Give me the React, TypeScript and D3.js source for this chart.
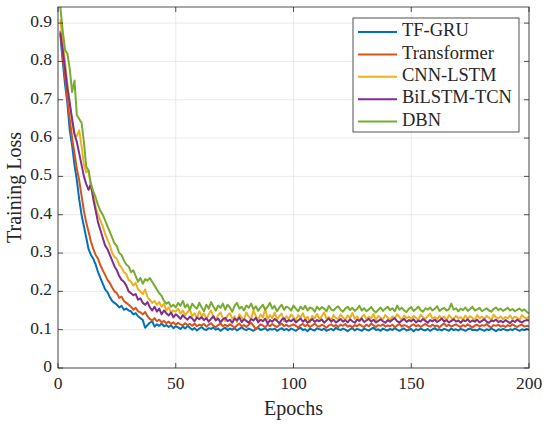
import React from "react";
import * as d3 from "d3";

const seriesNames = ["TF-GRU", "Transformer", "CNN-LSTM", "BiLSTM-TCN", "DBN"];
const seriesColors = ["#0072BD", "#D95319", "#EDB120", "#7E2F8E", "#77AC30"];
const xTicks = [0, 50, 100, 150, 200];
const yTicks = [0, 0.1, 0.2, 0.3, 0.4, 0.5, 0.6, 0.7, 0.8, 0.9];
const yTickLabels = ["0", "0.1", "0.2", "0.3", "0.4", "0.5", "0.6", "0.7", "0.8", "0.9"];

const tfGru = [
  0.870, 0.800, 0.740, 0.690, 0.620, 0.580, 0.530, 0.490, 0.440, 0.400,
  0.370, 0.340, 0.310, 0.295, 0.285, 0.270, 0.250, 0.235, 0.220, 0.205,
  0.198, 0.185, 0.175, 0.170, 0.165, 0.158, 0.162, 0.152, 0.155, 0.150,
  0.148, 0.140, 0.143, 0.135, 0.130, 0.125, 0.105, 0.112, 0.118, 0.122,
  0.108, 0.114, 0.110, 0.116, 0.109, 0.112, 0.107, 0.111, 0.104, 0.109,
  0.106, 0.102, 0.108, 0.103, 0.110, 0.105, 0.100, 0.104, 0.098, 0.103,
  0.107, 0.101, 0.099, 0.104, 0.102, 0.106, 0.100, 0.103, 0.097, 0.102,
  0.105, 0.099, 0.103, 0.100, 0.104, 0.098, 0.102, 0.106, 0.101, 0.099,
  0.103, 0.100, 0.097, 0.102, 0.105, 0.099, 0.101, 0.104, 0.098, 0.102,
  0.100, 0.103, 0.097, 0.101, 0.104, 0.099, 0.102, 0.098, 0.103, 0.100,
  0.097, 0.102, 0.105, 0.099, 0.101, 0.096, 0.103, 0.100, 0.098, 0.104,
  0.101, 0.099, 0.103, 0.097, 0.100, 0.102, 0.098, 0.105, 0.101, 0.099,
  0.103, 0.100, 0.096, 0.101, 0.104, 0.098, 0.102, 0.100, 0.097, 0.103,
  0.100, 0.098, 0.102, 0.105, 0.099, 0.101, 0.097, 0.103, 0.100, 0.098,
  0.102, 0.099, 0.104, 0.100, 0.097, 0.101, 0.103, 0.098, 0.100, 0.102,
  0.096, 0.101, 0.099, 0.103, 0.100, 0.098, 0.102, 0.097, 0.101, 0.104,
  0.099, 0.101, 0.098, 0.102, 0.100, 0.097, 0.103, 0.099, 0.101, 0.098,
  0.102, 0.100, 0.097, 0.101, 0.103, 0.099, 0.100, 0.098, 0.102, 0.100,
  0.097, 0.101, 0.099, 0.103, 0.100, 0.096, 0.101, 0.099, 0.102, 0.100,
  0.098, 0.101, 0.099, 0.103, 0.100, 0.097, 0.101, 0.099, 0.102, 0.100,
];

const transformer = [
  0.880, 0.810, 0.760, 0.700, 0.650, 0.600, 0.560, 0.520, 0.490, 0.450,
  0.410, 0.380, 0.355, 0.330, 0.310, 0.295, 0.285, 0.268, 0.255, 0.243,
  0.230, 0.222, 0.210, 0.200, 0.195, 0.183, 0.186, 0.175, 0.170, 0.165,
  0.160, 0.152, 0.157, 0.148, 0.145, 0.140, 0.146, 0.135, 0.128, 0.124,
  0.130, 0.122, 0.126, 0.119, 0.123, 0.117, 0.121, 0.115, 0.119, 0.113,
  0.118, 0.114, 0.111, 0.117, 0.112, 0.115, 0.110, 0.116, 0.109, 0.113,
  0.111, 0.115, 0.108, 0.113, 0.117, 0.110, 0.106, 0.112, 0.116, 0.109,
  0.113, 0.108, 0.114, 0.110, 0.105, 0.111, 0.116, 0.109, 0.112, 0.107,
  0.113, 0.118, 0.110, 0.101, 0.108, 0.114, 0.111, 0.106, 0.113, 0.109,
  0.115, 0.110, 0.107, 0.112, 0.116, 0.109, 0.113, 0.108, 0.111, 0.114,
  0.110, 0.106, 0.112, 0.115, 0.109, 0.113, 0.107, 0.111, 0.116, 0.110,
  0.108, 0.113, 0.110, 0.105, 0.111, 0.114, 0.109, 0.112, 0.107, 0.113,
  0.110, 0.115, 0.108, 0.111, 0.106, 0.112, 0.109, 0.114, 0.110, 0.107,
  0.113, 0.109, 0.116, 0.111, 0.107, 0.112, 0.110, 0.114, 0.108, 0.111,
  0.109, 0.113, 0.106, 0.111, 0.115, 0.108, 0.112, 0.110, 0.105, 0.111,
  0.114, 0.109, 0.112, 0.107, 0.111, 0.115, 0.110, 0.108, 0.113, 0.109,
  0.111, 0.106, 0.112, 0.116, 0.109, 0.113, 0.108, 0.111, 0.114, 0.110,
  0.107, 0.112, 0.109, 0.114, 0.110, 0.106, 0.111, 0.113, 0.108, 0.112,
  0.110, 0.115, 0.109, 0.106, 0.112, 0.110, 0.113, 0.108, 0.111, 0.107,
  0.112, 0.109, 0.114, 0.110, 0.107, 0.111, 0.113, 0.108, 0.110, 0.109,
];

const cnnLstm = [
  0.910, 0.850, 0.800, 0.740, 0.690, 0.640, 0.610, 0.605, 0.620, 0.580,
  0.530, 0.510, 0.515, 0.470, 0.450, 0.420, 0.400, 0.385, 0.370, 0.350,
  0.335, 0.320, 0.300, 0.290, 0.285, 0.270, 0.262, 0.250, 0.245, 0.230,
  0.225, 0.215, 0.222, 0.205, 0.200, 0.193, 0.205, 0.185, 0.178, 0.170,
  0.175, 0.165, 0.172, 0.160, 0.168, 0.150, 0.158, 0.145, 0.150, 0.147,
  0.155, 0.142, 0.150, 0.138, 0.146, 0.152, 0.135, 0.143, 0.130, 0.148,
  0.136, 0.142, 0.128, 0.140, 0.150, 0.133, 0.125, 0.138, 0.145, 0.130,
  0.122, 0.137, 0.143, 0.128, 0.135, 0.120, 0.140, 0.132, 0.126, 0.145,
  0.134, 0.128, 0.150, 0.136, 0.125, 0.140, 0.131, 0.155, 0.128, 0.138,
  0.130, 0.145, 0.126, 0.136, 0.142, 0.122, 0.135, 0.128, 0.140, 0.133,
  0.125, 0.138, 0.131, 0.143, 0.127, 0.134, 0.120, 0.136, 0.130, 0.141,
  0.128, 0.135, 0.145, 0.129, 0.133, 0.124, 0.138, 0.131, 0.127, 0.140,
  0.132, 0.126, 0.137, 0.130, 0.144, 0.128, 0.135, 0.122, 0.133, 0.139,
  0.127, 0.134, 0.130, 0.141, 0.125, 0.136, 0.131, 0.128, 0.138, 0.132,
  0.126, 0.135, 0.129, 0.140, 0.133, 0.124, 0.137, 0.130, 0.134, 0.128,
  0.136, 0.131, 0.125, 0.139, 0.132, 0.128, 0.135, 0.142, 0.129, 0.133,
  0.127, 0.136, 0.130, 0.134, 0.125, 0.138, 0.131, 0.128, 0.136, 0.130,
  0.133, 0.126, 0.137, 0.129, 0.135, 0.131, 0.124, 0.138, 0.130, 0.134,
  0.128, 0.136, 0.131, 0.125, 0.139, 0.132, 0.129, 0.135, 0.127, 0.133,
  0.130, 0.137, 0.128, 0.134, 0.131, 0.126, 0.138, 0.132, 0.129, 0.134,
];

const bilstmTcn = [
  0.875, 0.830, 0.780, 0.730, 0.690, 0.650, 0.610, 0.590, 0.560, 0.530,
  0.500, 0.480, 0.465, 0.480, 0.440, 0.410, 0.380, 0.360, 0.340, 0.320,
  0.310, 0.295, 0.280, 0.265, 0.255, 0.240, 0.230, 0.225, 0.215, 0.200,
  0.195, 0.190, 0.193, 0.178, 0.182, 0.170, 0.165, 0.172, 0.158, 0.150,
  0.160, 0.147, 0.155, 0.140, 0.150, 0.143, 0.137, 0.145, 0.132, 0.140,
  0.135, 0.128, 0.138, 0.131, 0.126, 0.134, 0.129, 0.122, 0.132, 0.127,
  0.133, 0.125, 0.130, 0.121, 0.128, 0.135, 0.124, 0.129, 0.119, 0.127,
  0.131, 0.122, 0.126, 0.118, 0.129, 0.124, 0.132, 0.120, 0.127, 0.123,
  0.118, 0.128, 0.124, 0.131, 0.119, 0.126, 0.122, 0.129, 0.116, 0.125,
  0.121, 0.128, 0.123, 0.117, 0.126, 0.130, 0.120, 0.125, 0.122, 0.128,
  0.119, 0.124, 0.129, 0.121, 0.126, 0.118, 0.123, 0.128, 0.120, 0.125,
  0.122, 0.127, 0.118, 0.124, 0.129, 0.121, 0.126, 0.119, 0.123, 0.128,
  0.121, 0.125, 0.119, 0.127, 0.122, 0.118, 0.126, 0.123, 0.129, 0.120,
  0.124, 0.128, 0.121, 0.126, 0.119, 0.123, 0.127, 0.122, 0.118, 0.125,
  0.121, 0.126, 0.130, 0.122, 0.119, 0.124, 0.128, 0.120, 0.125, 0.122,
  0.127, 0.119, 0.124, 0.121, 0.128, 0.123, 0.118, 0.125, 0.122, 0.126,
  0.120, 0.124, 0.129, 0.121, 0.125, 0.119, 0.123, 0.127, 0.121, 0.124,
  0.118, 0.125, 0.122, 0.127, 0.120, 0.124, 0.121, 0.126, 0.119, 0.123,
  0.127, 0.121, 0.118, 0.124, 0.122, 0.126, 0.120, 0.123, 0.119, 0.125,
  0.121, 0.117, 0.124, 0.120, 0.126, 0.122, 0.119, 0.123, 0.125, 0.124,
];

const dbn = [
  0.942, 0.880, 0.830, 0.820, 0.780, 0.720, 0.750, 0.660, 0.650, 0.640,
  0.590, 0.525, 0.515, 0.480, 0.460, 0.445, 0.425, 0.410, 0.400, 0.385,
  0.370, 0.355, 0.340, 0.325, 0.318, 0.300, 0.295, 0.280, 0.270, 0.265,
  0.250, 0.255, 0.240, 0.225, 0.235, 0.220, 0.232, 0.228, 0.235, 0.225,
  0.215, 0.205, 0.195, 0.188, 0.175, 0.168, 0.172, 0.160, 0.165, 0.158,
  0.170, 0.162, 0.175, 0.158, 0.166, 0.152, 0.168, 0.160, 0.155, 0.170,
  0.158, 0.148, 0.165, 0.155, 0.172, 0.160, 0.150, 0.163, 0.157, 0.168,
  0.152, 0.165, 0.158, 0.147, 0.162, 0.170, 0.155, 0.160, 0.150, 0.163,
  0.157, 0.168, 0.153, 0.161, 0.149, 0.158, 0.165, 0.152, 0.160, 0.170,
  0.155, 0.162, 0.148, 0.158, 0.165, 0.152, 0.160, 0.157, 0.150, 0.163,
  0.155, 0.148, 0.160, 0.153, 0.162, 0.150, 0.158, 0.155, 0.147, 0.160,
  0.152, 0.159, 0.155, 0.148, 0.162, 0.153, 0.150, 0.157, 0.161, 0.152,
  0.147, 0.155, 0.160, 0.151, 0.157, 0.149, 0.154, 0.162, 0.150, 0.156,
  0.148, 0.153, 0.159, 0.150, 0.145, 0.152, 0.158, 0.149, 0.155, 0.160,
  0.151, 0.156, 0.148, 0.163, 0.152, 0.157, 0.150, 0.146, 0.155, 0.159,
  0.149, 0.154, 0.160, 0.151, 0.147, 0.156, 0.152, 0.158, 0.150, 0.155,
  0.161, 0.149, 0.154, 0.157, 0.150, 0.153, 0.168, 0.152, 0.156, 0.148,
  0.155, 0.151, 0.158, 0.149, 0.154, 0.160, 0.150, 0.153, 0.157, 0.148,
  0.152, 0.156, 0.150, 0.147, 0.154, 0.158, 0.151, 0.155, 0.149, 0.153,
  0.157, 0.150, 0.154, 0.148, 0.152, 0.155, 0.149, 0.153, 0.147, 0.142,
];

const allSeries = [tfGru, transformer, cnnLstm, bilstmTcn, dbn];

const W = 550;
const H = 426;
const L = 58;
const R = 529;
const T = 7;
const B = 368;
const FONT = "'Liberation Serif', 'Times New Roman', serif";
const AX = "#262626";

export default function App() {
  const x = d3.scaleLinear().domain([0, 200]).range([L, R]);
  const y = d3.scaleLinear().domain([0, 0.942]).range([B, T]);
  const line = d3
    .line<number>()
    .x((_, i) => x(i + 1))
    .y((d) => y(d));
  const tick = 5;
  const legX = 353;
  const legY = 18;
  const legW = 166;
  const legH = 114;
  const legStep = 22.4;
  return (
    <svg
      width={W}
      height={H}
      style={{ position: "absolute", left: 0, top: 0, background: "#fff" }}
    >
      <defs>
        <clipPath id="plotclip">
          <rect x={L} y={T} width={R - L} height={B - T} />
        </clipPath>
      </defs>
      <rect x={0} y={0} width={W} height={H} fill="#fff" />
      {xTicks.map((t) => (
        <line key={"gx" + t} x1={x(t)} x2={x(t)} y1={T} y2={B} stroke="#e4e4e4" strokeWidth={0.8} />
      ))}
      {yTicks.map((t) => (
        <line key={"gy" + t} x1={L} x2={R} y1={y(t)} y2={y(t)} stroke="#e4e4e4" strokeWidth={0.8} />
      ))}
      <g clipPath="url(#plotclip)">
        {allSeries.map((s, i) => (
          <path
            key={seriesNames[i]}
            d={line(s) || ""}
            fill="none"
            stroke={seriesColors[i]}
            strokeWidth={2}
            strokeLinejoin="round"
          />
        ))}
      </g>
      <rect x={L} y={T} width={R - L} height={B - T} fill="none" stroke={AX} strokeWidth={0.8} />
      {xTicks.map((t) => (
        <g key={"tx" + t}>
          <line x1={x(t)} x2={x(t)} y1={B} y2={B - tick} stroke={AX} strokeWidth={0.8} />
          <line x1={x(t)} x2={x(t)} y1={T} y2={T + tick} stroke={AX} strokeWidth={0.8} />
          <text
            x={x(t)}
            y={B + 17}
            textAnchor="middle"
            dominantBaseline="middle"
            fontFamily={FONT}
            fontSize={17.5}
            fill={AX}
          >
            {t}
          </text>
        </g>
      ))}
      {yTicks.map((t, i) => (
        <g key={"ty" + t}>
          <line x1={L} x2={L + tick} y1={y(t)} y2={y(t)} stroke={AX} strokeWidth={0.8} />
          <line x1={R} x2={R - tick} y1={y(t)} y2={y(t)} stroke={AX} strokeWidth={0.8} />
          <text
            x={L - 6}
            y={y(t)}
            textAnchor="end"
            dominantBaseline="middle"
            fontFamily={FONT}
            fontSize={17.5}
            fill={AX}
          >
            {yTickLabels[i]}
          </text>
        </g>
      ))}
      <text
        x={(L + R) / 2}
        y={410}
        textAnchor="middle"
        dominantBaseline="middle"
        fontFamily={FONT}
        fontSize={20}
        fill={AX}
      >
        Epochs
      </text>
      <text
        transform={`translate(16, ${(T + B) / 2}) rotate(-90)`}
        textAnchor="middle"
        dominantBaseline="middle"
        fontFamily={FONT}
        fontSize={20}
        fill={AX}
      >
        Training Loss
      </text>
      <rect x={legX} y={legY} width={legW} height={legH} fill="#fff" stroke={AX} strokeWidth={0.8} />
      {seriesNames.map((n, i) => {
        const cy = legY + 14 + i * legStep;
        return (
          <g key={"leg" + n}>
            <line x1={legX + 5} x2={legX + 44} y1={cy} y2={cy} stroke={seriesColors[i]} strokeWidth={2} />
            <text
              x={legX + 49}
              y={cy}
              dominantBaseline="middle"
              fontFamily={FONT}
              fontSize={18.5}
              fill={AX}
            >
              {n}
            </text>
          </g>
        );
      })}
    </svg>
  );
}
